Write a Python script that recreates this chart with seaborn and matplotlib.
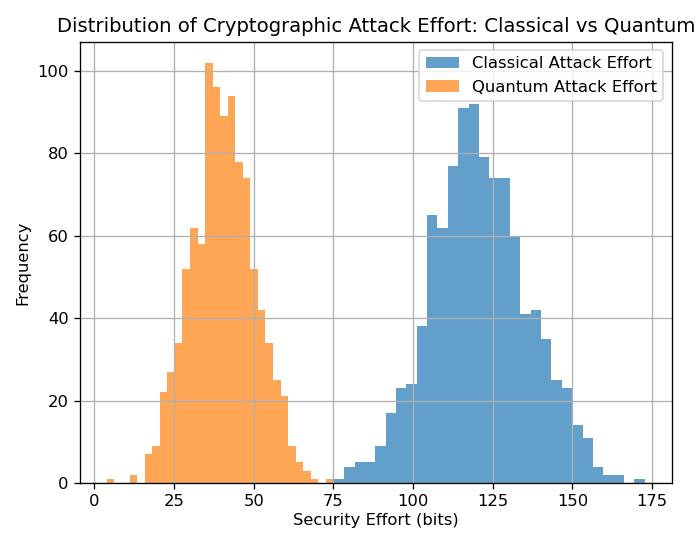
import numpy as np
import pandas as pd
import matplotlib
matplotlib.use('Agg')
import matplotlib.pyplot as plt
import seaborn as sns

# 读图得到的分箱计数（30 bins）
classical_lo, classical_hi = 75.1, 172.7
classical_counts = [1, 4, 5, 5, 9, 17, 23, 24, 38, 65, 62, 77, 91, 92, 79,
                    74, 74, 60, 41, 42, 35, 25, 23, 14, 11, 4, 2, 2, 0, 1]

quantum_lo, quantum_hi = 3.9, 75.0
quantum_counts = [1, 0, 0, 2, 0, 7, 9, 22, 27, 34, 52, 62, 58, 102, 96,
                  89, 94, 78, 74, 52, 42, 34, 25, 21, 9, 5, 3, 1, 0, 1]

labels = ['Classical Attack Effort', 'Quantum Attack Effort']


def to_frame(lo, hi, counts):
    edges = np.linspace(lo, hi, len(counts) + 1)
    centers = (edges[:-1] + edges[1:]) / 2
    return pd.DataFrame({'bits': centers, 'n': counts})


df_c = to_frame(classical_lo, classical_hi, classical_counts)
df_q = to_frame(quantum_lo, quantum_hi, quantum_counts)

DPI = 118
fig = plt.figure(figsize=(698 / DPI, 534 / DPI), dpi=DPI)
ax = fig.add_axes([0.1146, 0.0955, 0.8477, 0.8264])

sns.histplot(data=df_c, x='bits', weights='n', bins=len(classical_counts),
             binrange=(classical_lo, classical_hi), color='tab:blue',
             alpha=0.7, edgecolor='none', linewidth=0, label=labels[0], ax=ax)
sns.histplot(data=df_q, x='bits', weights='n', bins=len(quantum_counts),
             binrange=(quantum_lo, quantum_hi), color='tab:orange',
             alpha=0.7, edgecolor='none', linewidth=0, label=labels[1], ax=ax)

ax.set_title('Distribution of Cryptographic Attack Effort: Classical vs Quantum', fontsize=12)
ax.set_xlabel('Security Effort (bits)', labelpad=2)
ax.set_ylabel('Frequency')
ax.legend(loc='upper right')
ax.grid(True)

fig.savefig('out.png', dpi=DPI)
